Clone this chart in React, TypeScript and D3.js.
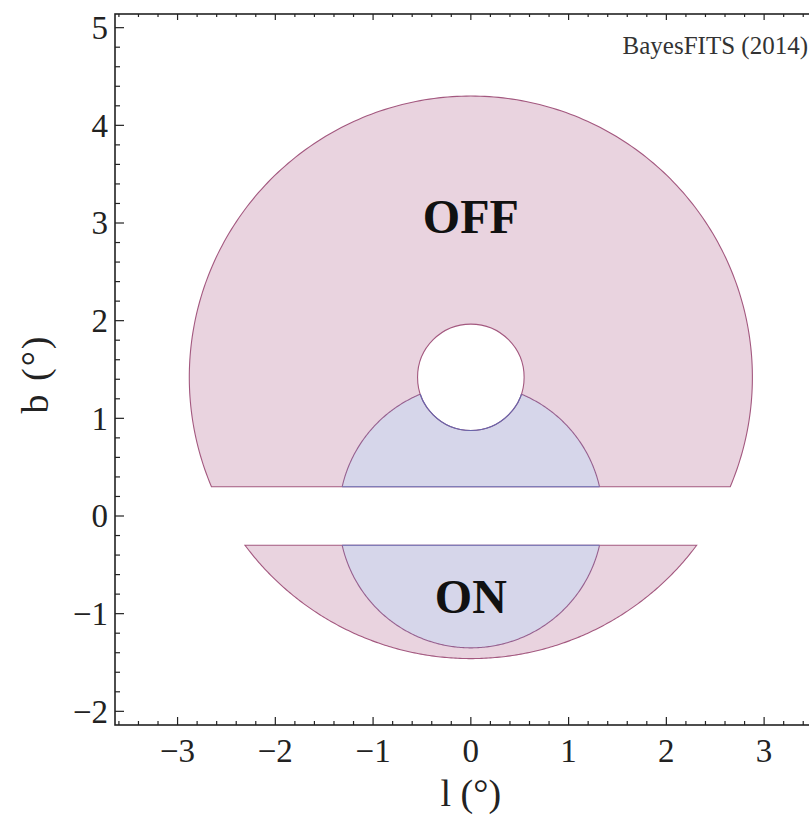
import React from 'react';
import * as d3 from 'd3';

// region geometry (degrees, galactic l/b)
const outerRing = { cx: 0, cy: 1.42, r: 2.88 };
const holeCircle = { cx: 0, cy: 1.42, r: 0.545 };
const onCircle = { cx: 0, cy: 0, r: 1.35 };
const planeCut = 0.3; // |b| < 0.3 masked

const xTicks = [-3, -2, -1, 0, 1, 2, 3];
const yTicks = [-2, -1, 0, 1, 2, 3, 4, 5];
const xDomain = [-3.64, 3.5];
const yDomain = [-2.14, 5.14];

const labels = [
  { text: 'OFF', l: 0, b: 2.9 },
  { text: 'ON', l: 0, b: -0.99 },
];

const W = 809;
const H = 815;
const frame = { left: 115, right: 813, top: 14, bottom: 725 };

const PINK_FILL = '#e9d3df';
const PINK_LINE = '#a3587f';
const BLUE_FILL = '#d6d6ea';
const BLUE_LINE = '#6666ad';
const ARC_LINE = '#96608f';
const FONT = '"Liberation Serif", "Times New Roman", Times, serif';

const App = () => {
  const x = d3.scaleLinear().domain(xDomain).range([frame.left, frame.right]);
  const y = d3.scaleLinear().domain(yDomain).range([frame.bottom, frame.top]);

  // points of a circle arc clipped by a horizontal line, closed by the chord
  const capPoints = (c, side) => {
    const s = (side * planeCut - c.cy) / c.r;
    const a = Math.asin(Math.max(-1, Math.min(1, s)));
    const [t0, t1] = side > 0 ? [a, Math.PI - a] : [Math.PI - a, 2 * Math.PI + a];
    const n = 240;
    return d3.range(n + 1).map(i => {
      const t = t0 + (t1 - t0) * (i / n);
      return [c.cx + c.r * Math.cos(t), c.cy + c.r * Math.sin(t)];
    });
  };

  const line = d3.line().x(d => x(d[0])).y(d => y(d[1]));
  const closed = pts => line(pts) + 'Z';
  const chord = pts => line([pts[0], pts[pts.length - 1]]);

  const pinkUp = capPoints(outerRing, 1);
  const pinkDn = capPoints(outerRing, -1);
  const blueUp = capPoints(onCircle, 1);
  const blueDn = capPoints(onCircle, -1);

  const pxR = c => x(c.cx + c.r) - x(c.cx);
  const pyR = c => y(c.cy - c.r) - y(c.cy);

  const xMinor = d3.range(-3.6, 3.51, 0.2).map(v => +v.toFixed(1));
  const yMinor = d3.range(-2.0, 5.11, 0.2).map(v => +v.toFixed(1));
  const isMajor = v => Math.abs(v - Math.round(v)) < 1e-6;
  const fmt = v => (v < 0 ? '\u2212' + Math.abs(v) : String(v));

  return (
    <svg width={W} height={H} style={{ position: 'absolute', left: 0, top: 0, background: '#fff' }}>
      <defs>
        <clipPath id="onClip">
          <ellipse cx={x(onCircle.cx)} cy={y(onCircle.cy)} rx={pxR(onCircle)} ry={pyR(onCircle)} />
        </clipPath>
      </defs>

      {/* OFF region (pink) */}
      {[pinkUp, pinkDn].map((p, i) => (
        <path key={'p' + i} d={closed(p)} fill={PINK_FILL} stroke={PINK_LINE} strokeWidth={1.1} />
      ))}

      {/* ON region (blue) */}
      {[blueUp, blueDn].map((p, i) => (
        <g key={'b' + i}>
          <path d={closed(p)} fill={BLUE_FILL} stroke="none" />
          <path d={line(p)} fill="none" stroke={ARC_LINE} strokeWidth={1.1} />
          <path d={chord(p)} fill="none" stroke={BLUE_LINE} strokeWidth={1.1} />
        </g>
      ))}

      {/* central hole */}
      <ellipse cx={x(holeCircle.cx)} cy={y(holeCircle.cy)} rx={pxR(holeCircle)} ry={pyR(holeCircle)}
        fill="#fff" stroke={PINK_LINE} strokeWidth={1.1} />
      <ellipse cx={x(holeCircle.cx)} cy={y(holeCircle.cy)} rx={pxR(holeCircle)} ry={pyR(holeCircle)}
        fill="none" stroke={BLUE_LINE} strokeWidth={1.1} clipPath="url(#onClip)" />

      {labels.map(d => (
        <text key={d.text} x={x(d.l)} y={y(d.b)} textAnchor="middle" fontFamily={FONT}
          fontWeight="bold" fontSize={48} fill="#111">{d.text}</text>
      ))}

      <text x={808} y={54} textAnchor="end" fontFamily={FONT} fontSize={25} fill="#333">BayesFITS (2014)</text>

      {/* frame (right edge falls outside the picture) */}
      <rect x={frame.left} y={frame.top} width={frame.right + 10 - frame.left} height={frame.bottom - frame.top}
        fill="none" stroke="#222" strokeWidth={1.6} />

      {/* x ticks bottom and top */}
      {xMinor.map(v => {
        const len = isMajor(v) ? 8 : 4;
        return (
          <g key={'xt' + v}>
            <line x1={x(v)} x2={x(v)} y1={frame.bottom} y2={frame.bottom - len} stroke="#222" strokeWidth={1.2} />
            <line x1={x(v)} x2={x(v)} y1={frame.top} y2={frame.top + (isMajor(v) ? 6 : 3)} stroke="#222" strokeWidth={1.2} />
          </g>
        );
      })}
      {yMinor.map(v => {
        const len = isMajor(v) ? 9 : 5;
        return (
          <line key={'yt' + v} x1={frame.left} x2={frame.left + len} y1={y(v)} y2={y(v)} stroke="#222" strokeWidth={1.2} />
        );
      })}

      {xTicks.map(v => (
        <text key={'xl' + v} x={x(v)} y={762} textAnchor="middle" fontFamily={FONT} fontSize={33} fill="#222">
          {fmt(v)}
        </text>
      ))}
      {yTicks.map(v => (
        <text key={'yl' + v} x={108} y={y(v)} dy="0.34em" textAnchor="end" fontFamily={FONT} fontSize={33} fill="#222">
          {fmt(v)}
        </text>
      ))}

      <text x={x(0)} y={806} textAnchor="middle" fontFamily={FONT} fontSize={38} fill="#222">l (°)</text>
      <text transform={`translate(48, ${374}) rotate(-90)`} textAnchor="middle" fontFamily={FONT} fontSize={38}
        letterSpacing={2} fill="#222">b (°)</text>
    </svg>
  );
};

export default App;
